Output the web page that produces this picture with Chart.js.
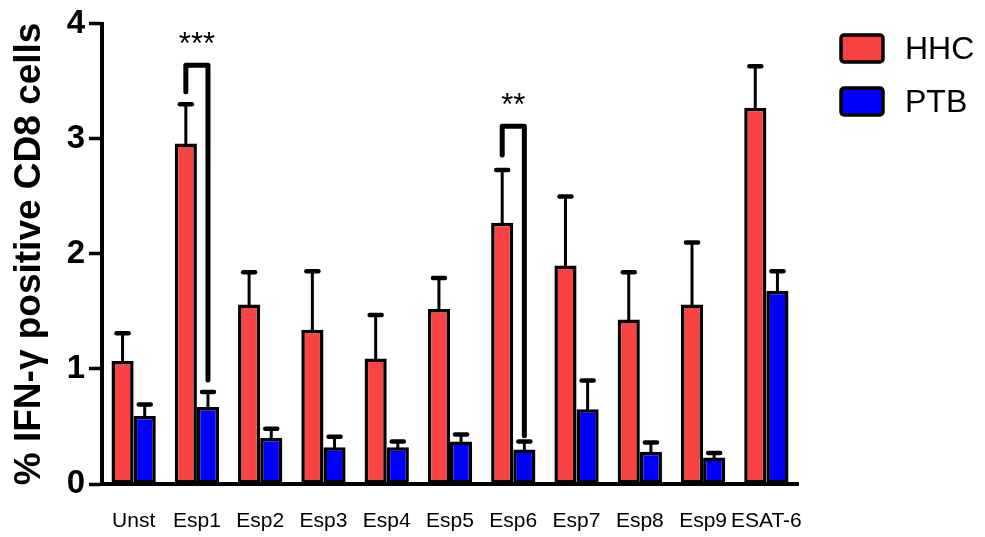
<!DOCTYPE html>
<html>
<head>
<meta charset="utf-8">
<script src="https://cdn.jsdelivr.net/npm/chart.js@4/dist/chart.umd.min.js"></script>
<style>
  html, body { margin: 0; padding: 0; background: #fff; }
  #wrap { width: 985px; height: 537px; }
</style>
</head>
<body>
<div id="wrap"><canvas id="cd8Chart" width="985" height="537"></canvas></div>
<script>
// values (mean + upper SEM)
const categories = ['Unst', 'Esp1', 'Esp2', 'Esp3', 'Esp4', 'Esp5', 'Esp6', 'Esp7', 'Esp8', 'Esp9', 'ESAT-6'];
const hhcMean = [1.07, 2.96, 1.56, 1.34, 1.09, 1.52, 2.27, 1.90, 1.43, 1.56, 3.27];
const hhcSem  = [0.24, 0.34, 0.28, 0.51, 0.38, 0.27, 0.46, 0.60, 0.41, 0.54, 0.36];
const ptbMean = [0.59, 0.67, 0.40, 0.32, 0.32, 0.37, 0.30, 0.65, 0.28, 0.23, 1.68];
const ptbSem  = [0.10, 0.13, 0.08, 0.09, 0.05, 0.06, 0.07, 0.25, 0.08, 0.04, 0.17];
const yTicks = [0, 1, 2, 3, 4];

// significance brackets: HHC vs PTB
const sigCats     = ['Esp1', 'Esp6'];
const sigLabels   = ['***', '**'];
const sigTop      = [3.64, 3.11];
const sigLeftEnd  = [3.41, 2.86];
const sigRightEnd = [0.905, 0.42];

const FONT = '"Liberation Sans", Arial, sans-serif';
const RED = '#f94343';
const BLUE = '#0000ff';

// error bars (upward only) drawn from the bar tops
const errorBars = {
    id: 'errorBars',
    afterDatasetsDraw(chart) {
        const ctx = chart.ctx;
        const y = chart.scales.y;
        const sems = [hhcSem, ptbSem];
        ctx.save();
        ctx.strokeStyle = '#000';
        ctx.lineCap = 'round';
        chart.data.datasets.forEach((ds, di) => {
            const meta = chart.getDatasetMeta(di);
            meta.data.forEach((bar, i) => {
                const top = y.getPixelForValue(ds.data[i] + sems[di][i]);
                ctx.lineWidth = 3;
                ctx.beginPath();
                ctx.moveTo(bar.x, bar.y);
                ctx.lineTo(bar.x, top);
                ctx.stroke();
                ctx.lineWidth = 4.5;
                ctx.beginPath();
                ctx.moveTo(bar.x - 6, top);
                ctx.lineTo(bar.x + 6, top);
                ctx.stroke();
            });
        });
        ctx.restore();
    }
};

// brackets with stars
const sigBrackets = {
    id: 'sigBrackets',
    afterDatasetsDraw(chart) {
        const ctx = chart.ctx;
        const y = chart.scales.y;
        const red = chart.getDatasetMeta(0).data;
        const blue = chart.getDatasetMeta(1).data;
        ctx.save();
        ctx.strokeStyle = '#000';
        ctx.fillStyle = '#000';
        ctx.lineWidth = 5;
        ctx.lineCap = 'round';
        ctx.lineJoin = 'round';
        sigCats.forEach((c, k) => {
            const i = categories.indexOf(c);
            const x1 = red[i].x, x2 = blue[i].x;
            const yt = y.getPixelForValue(sigTop[k]);
            ctx.beginPath();
            ctx.moveTo(x1, y.getPixelForValue(sigLeftEnd[k]));
            ctx.lineTo(x1, yt);
            ctx.lineTo(x2, yt);
            ctx.lineTo(x2, y.getPixelForValue(sigRightEnd[k]));
            ctx.stroke();
            ctx.font = '31px ' + FONT;
            ctx.textAlign = 'center';
            ctx.textBaseline = 'middle';
            ctx.fillText(sigLabels[k], (x1 + x2) / 2, yt - 20);
        });
        ctx.restore();
    }
};

// legend on the right, boxes with black outline
const sideLegend = {
    id: 'sideLegend',
    afterDraw(chart) {
        const ctx = chart.ctx;
        ctx.save();
        chart.data.datasets.forEach((ds, i) => {
            const top = 35 + i * 53;
            ctx.beginPath();
            ctx.roundRect(841, top, 42, 27, 3);
            ctx.fillStyle = ds.backgroundColor;
            ctx.fill();
            ctx.lineWidth = 3.5;
            ctx.strokeStyle = '#000';
            ctx.stroke();
            ctx.fillStyle = '#000';
            ctx.font = '32px ' + FONT;
            ctx.textAlign = 'left';
            ctx.textBaseline = 'middle';
            ctx.fillText(ds.label, 905, top + 15);
        });
        ctx.restore();
    }
};

new Chart(document.getElementById('cd8Chart'), {
    type: 'bar',
    data: {
        labels: categories,
        datasets: [
            { label: 'HHC', data: hhcMean, backgroundColor: RED, borderColor: '#000', borderWidth: 3.5, borderSkipped: false },
            { label: 'PTB', data: ptbMean, backgroundColor: BLUE, borderColor: '#000', borderWidth: 3.5, borderSkipped: false }
        ]
    },
    options: {
        responsive: false,
        animation: false,
        devicePixelRatio: 1,
        layout: { padding: { top: 20, right: 187, bottom: 0, left: 0 } },
        categoryPercentage: 0.7,
        barPercentage: 1.0,
        plugins: {
            legend: { display: false },
            tooltip: { enabled: false }
        },
        scales: {
            x: {
                afterFit(scale) { scale.height = 53; },
                grid: { display: false, drawTicks: false },
                border: { display: true, color: '#000', width: 4 },
                ticks: { color: '#000', padding: 25, maxRotation: 0, autoSkip: false, font: { family: FONT, size: 21 } }
            },
            y: {
                min: 0,
                max: 4,
                afterFit(scale) { scale.width = 102; },
                afterBuildTicks(scale) { scale.ticks = yTicks.map(v => ({ value: v })); },
                grid: { drawOnChartArea: false, drawTicks: true, tickLength: 13, tickWidth: 3.5, tickColor: '#000' },
                border: { display: true, color: '#000', width: 4 },
                ticks: { color: '#000', padding: 4, font: { family: FONT, size: 33, weight: 'bold' } },
                title: {
                    display: true,
                    text: '% IFN-γ positive CD8 cells',
                    color: '#000',
                    padding: { top: 8, bottom: 0 },
                    font: { family: FONT, size: 37, weight: 'bold' }
                }
            }
        }
    },
    plugins: [errorBars, sigBrackets, sideLegend]
});
</script>
</body>
</html>
